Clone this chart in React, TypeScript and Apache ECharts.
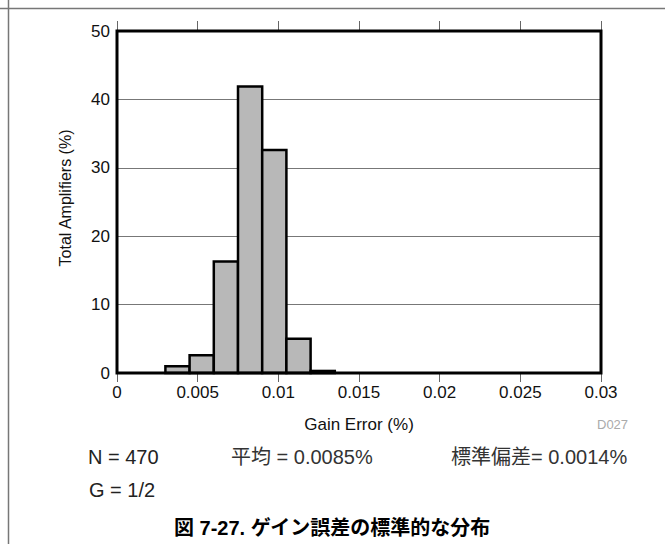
import React, { useEffect, useRef } from "react";
import * as echarts from "echarts";

const binEdges = [0.003, 0.0045, 0.006, 0.0075, 0.009, 0.0105, 0.012, 0.0135];
const percentages = [1.0, 2.6, 16.3, 41.9, 32.6, 5.0, 0.3];
const xTicks = [0, 0.005, 0.01, 0.015, 0.02, 0.025, 0.03];
const yTicks = [0, 10, 20, 30, 40, 50];
const statsTexts = ["N = 470", "平均 = 0.0085%", "標準偏差= 0.0014%", "G = 1/2"];
const titleText = "図 7-27. ゲイン誤差の標準的な分布";

const FONT = "'Liberation Sans', Arial, 'Noto Sans CJK JP', sans-serif";

export default function App() {
  const ref = useRef<HTMLDivElement>(null);
  useEffect(() => {
    if (!ref.current) return;
    const chart = echarts.init(ref.current, undefined, { renderer: "svg" });
    const data = percentages.map((v, i) => [binEdges[i], binEdges[i + 1], v]);
    const option: any = {
      animation: false,
      backgroundColor: "#fff",
      textStyle: { fontFamily: FONT },
      grid: {
        left: 117,
        right: 64,
        top: 31,
        bottom: 171,
        show: true,
        borderColor: "#000",
        borderWidth: 3,
        backgroundColor: "transparent",
        z: 5,
      },
      xAxis: [
        {
          type: "value",
          position: "bottom",
          min: xTicks[0],
          max: xTicks[xTicks.length - 1],
          interval: 0.005,
          axisLine: { show: false },
          axisTick: { show: true, length: 9, lineStyle: { color: "#666", width: 1 } },
          axisLabel: {
            margin: 11,
            fontSize: 17,
            color: "#111",
            fontFamily: FONT,
            formatter: (v: number) => {
              const found = xTicks.find((t) => Math.abs(t - v) < 1e-9);
              return found === undefined ? "" : String(found);
            },
          },
          splitLine: { show: false },
        },
        {
          type: "value",
          position: "top",
          min: xTicks[0],
          max: xTicks[xTicks.length - 1],
          interval: 0.005,
          axisLine: { show: false },
          axisTick: { show: true, length: 10, lineStyle: { color: "#666", width: 1 } },
          axisLabel: { show: false },
          splitLine: { show: false },
        },
      ],
      yAxis: {
        type: "value",
        min: yTicks[0],
        max: yTicks[yTicks.length - 1],
        interval: 10,
        axisLine: { show: false },
        axisTick: { show: false },
        axisLabel: { margin: 7, fontSize: 17, color: "#111", fontFamily: FONT },
        splitLine: { show: true, lineStyle: { color: "#777", width: 1 } },
      },
      series: [
        {
          type: "custom",
          xAxisIndex: 0,
          yAxisIndex: 0,
          encode: { x: [0, 1], y: 2 },
          data,
          z: 3,
          renderItem: (params: any, api: any) => {
            const p0 = api.coord([api.value(0), api.value(2)]);
            const p1 = api.coord([api.value(1), 0]);
            return {
              type: "rect",
              shape: { x: p0[0], y: p0[1], width: p1[0] - p0[0], height: p1[1] - p0[1] },
              style: { fill: "#b8b8b8", stroke: "#000", lineWidth: 2.5 },
            };
          },
        },
      ],
      graphic: [
        { type: "line", shape: { x1: 0, y1: 8.5, x2: 665, y2: 8.5 }, style: { stroke: "#777", lineWidth: 1.5 } },
        { type: "line", shape: { x1: 8.5, y1: 0, x2: 8.5, y2: 544 }, style: { stroke: "#777", lineWidth: 1.5 } },
        {
          type: "text",
          x: 359,
          y: 424,
          style: { text: "Gain Error (%)", fontSize: 17, fontFamily: FONT, fill: "#111", align: "center", verticalAlign: "middle" },
        },
        {
          type: "text",
          x: 65,
          y: 198,
          rotation: Math.PI / 2,
          style: { text: "Total Amplifiers (%)", fontSize: 16, fontFamily: FONT, fill: "#111", align: "center", verticalAlign: "middle" },
        },
        {
          type: "text",
          x: 597,
          y: 424,
          style: { text: "D027", fontSize: 13, fontFamily: FONT, fill: "#aaa", align: "left", verticalAlign: "middle" },
        },
        {
          type: "text",
          x: 88,
          y: 457,
          style: { text: statsTexts[0], fontSize: 20, fontFamily: FONT, fill: "#222", align: "left", verticalAlign: "middle" },
        },
        {
          type: "text",
          x: 231,
          y: 457,
          style: { text: statsTexts[1], fontSize: 20, fontFamily: FONT, fill: "#333", align: "left", verticalAlign: "middle" },
        },
        {
          type: "text",
          x: 451,
          y: 457,
          style: { text: statsTexts[2], fontSize: 20, fontFamily: FONT, fill: "#333", align: "left", verticalAlign: "middle" },
        },
        {
          type: "text",
          x: 89,
          y: 490,
          style: { text: statsTexts[3], fontSize: 20, fontFamily: FONT, fill: "#222", align: "left", verticalAlign: "middle" },
        },
        {
          type: "text",
          x: 174,
          y: 528,
          style: { text: titleText, fontSize: 20, fontWeight: "bold", fontFamily: FONT, fill: "#000", align: "left", verticalAlign: "middle" },
        },
      ],
    };
    chart.setOption(option);
    return () => chart.dispose();
  }, []);
  return (
    <div
      ref={ref}
      style={{ position: "absolute", left: 0, top: 0, width: 665, height: 544 }}
    />
  );
}
